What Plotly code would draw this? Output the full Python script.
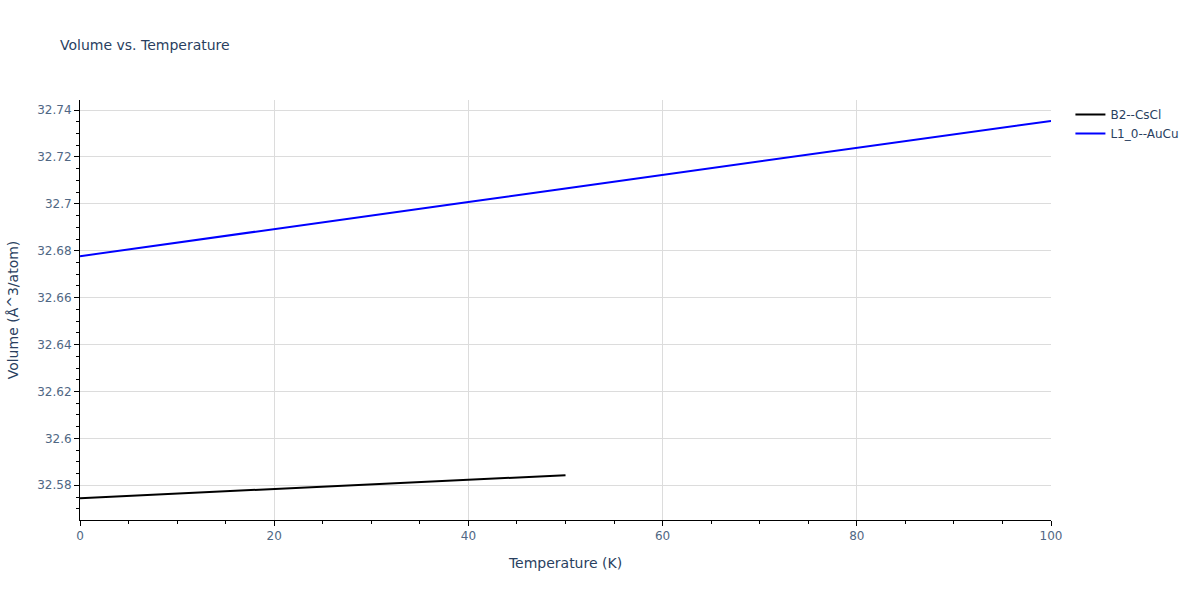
import plotly.graph_objects as go

temp_b2 = [0, 10, 20, 30, 40, 50]
vol_b2 = [32.5745, 32.5764, 32.5783, 32.5803, 32.5823, 32.5843]

temp_l10 = [0, 10, 20, 30, 40, 50, 60, 70, 80, 90, 100]
vol_l10 = [32.6777, 32.6834, 32.6892, 32.6950, 32.7008, 32.7066, 32.7123, 32.7180, 32.7238, 32.7296, 32.7354]

fig = go.Figure()
fig.add_trace(go.Scatter(x=temp_b2, y=vol_b2, mode="lines", name="B2--CsCl",
                         line=dict(color="black", width=2)))
fig.add_trace(go.Scatter(x=temp_l10, y=vol_l10, mode="lines", name="L1_0--AuCu",
                         line=dict(color="blue", width=2)))

axis_common = dict(showline=True, linecolor="black", linewidth=1, ticks="outside",
                   tickcolor="black", showgrid=True, gridcolor="#dcdcdc", zeroline=False,
                   tickfont=dict(color="#506784"))

fig.update_layout(
    width=1200, height=600,
    margin=dict(l=80, r=149, t=100, b=80),
    font=dict(family="Verdana, DejaVu Sans, sans-serif", size=12, color="#2a3f5f"),
    title=dict(text="Volume vs. Temperature", font=dict(size=14)),
    plot_bgcolor="white", paper_bgcolor="white",
    xaxis=dict(title=dict(text="Temperature (K)"), range=[0, 100], dtick=20,
               minor=dict(ticks="outside", dtick=5, tickcolor="black", showgrid=False),
               **axis_common),
    yaxis=dict(title=dict(text="Volume (Å^3/atom)"), range=[32.5652, 32.7443], dtick=0.02,
               minor=dict(ticks="outside", dtick=0.005, tickcolor="black", showgrid=False),
               **axis_common),
    legend=dict(x=1.02, y=1, xanchor="left", yanchor="top"),
)

fig.write_html("out.html", config={"displayModeBar": False},
               post_script="document.body.style.margin='0';")
